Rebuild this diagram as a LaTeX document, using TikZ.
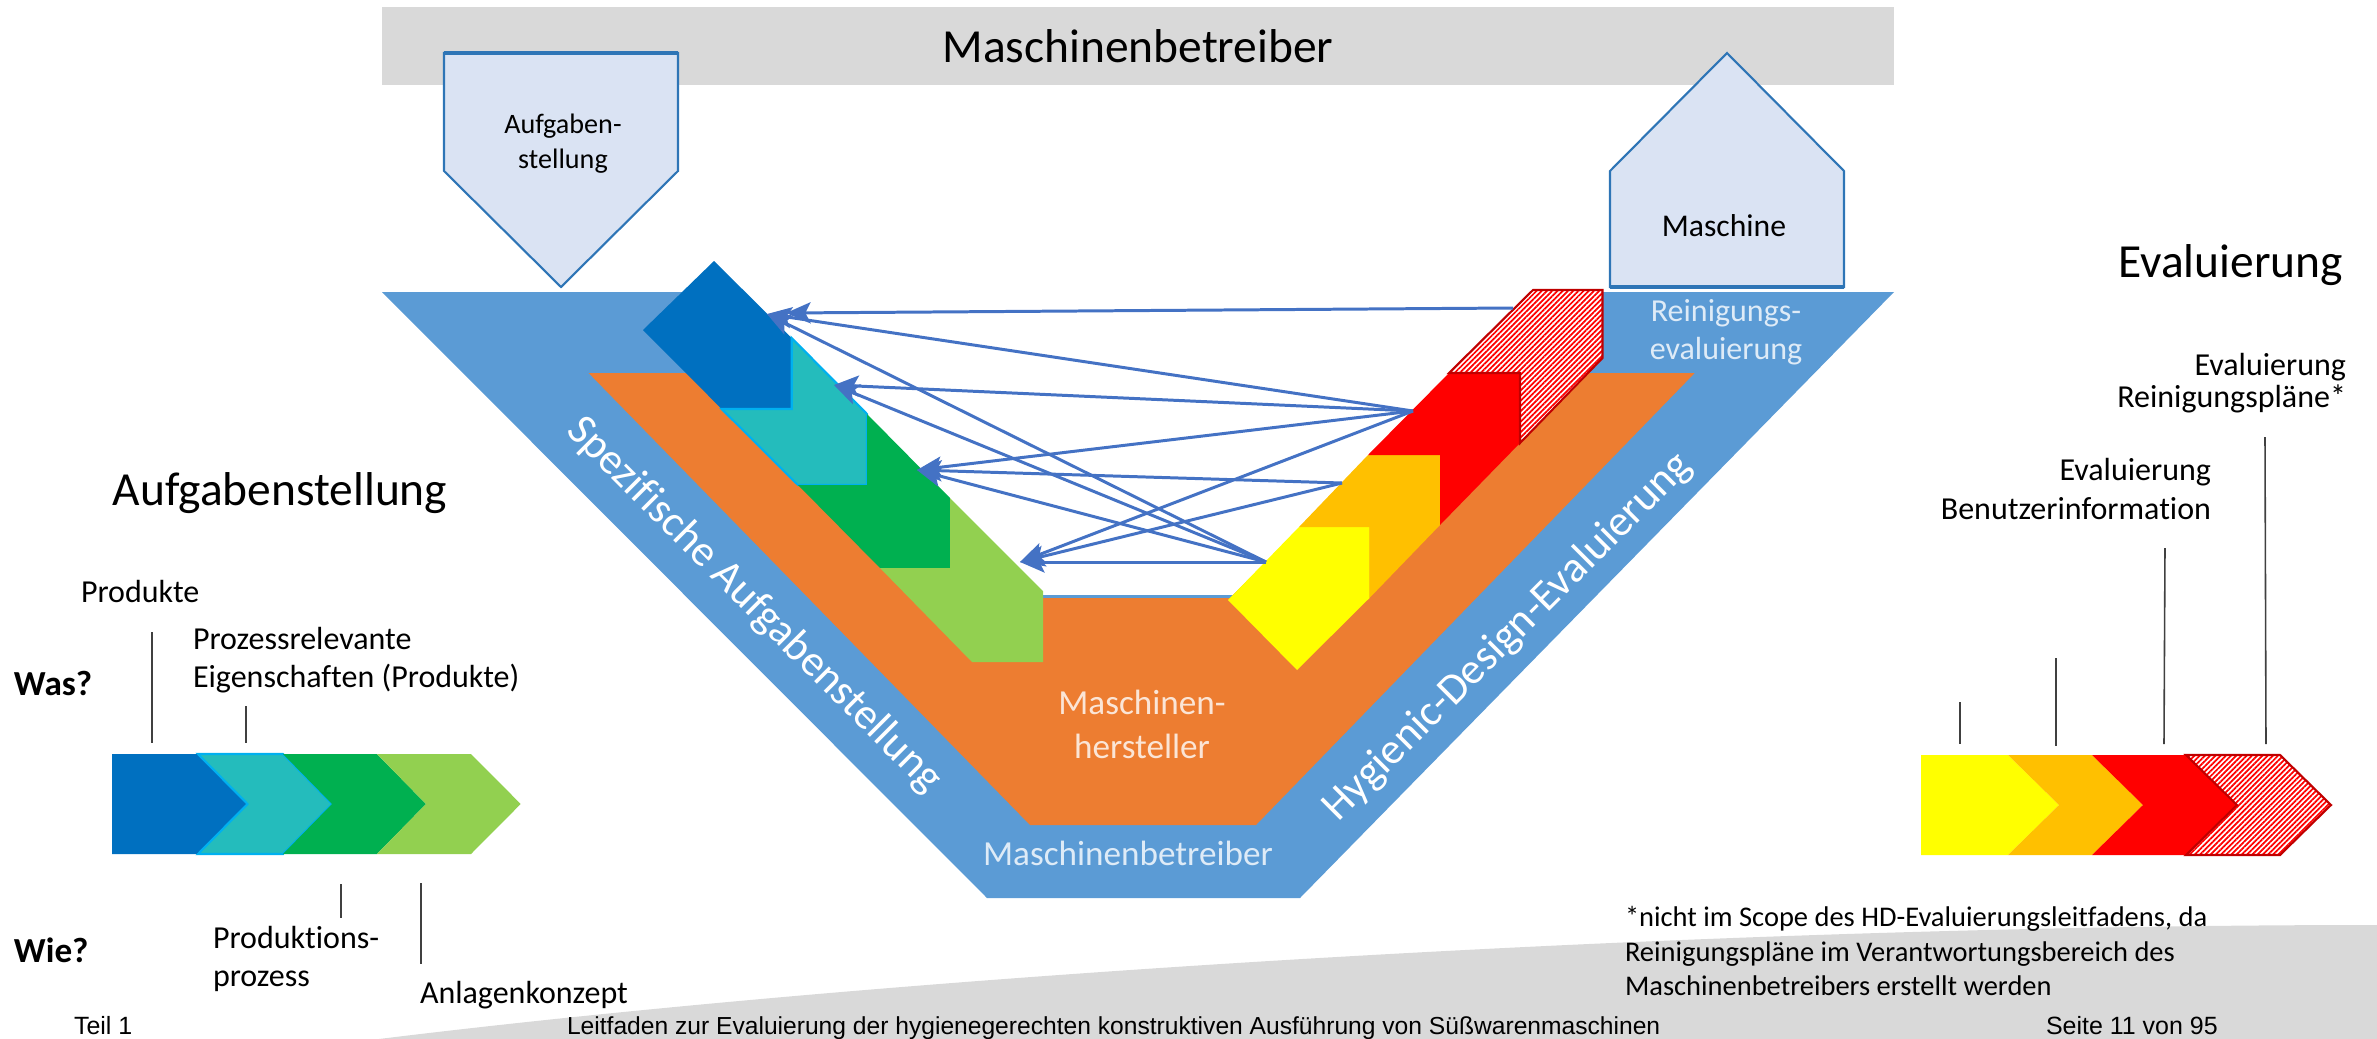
\documentclass[tikz,border=0pt]{standalone}
\usepackage{fontspec}
\setmainfont{Carlito}[Ligatures=NoCommon]
\newfontfamily\arialf{Liberation Sans}[Ligatures=NoCommon]
\usetikzlibrary{arrows.meta,patterns.meta}
\newcommand\myfs[1]{\fontsize{#1pt}{#1pt}\selectfont}
\definecolor{vblue}{HTML}{5B9BD5}
\definecolor{vorange}{HTML}{ED7D31}
\definecolor{dblue}{HTML}{0070C0}
\definecolor{tealc}{HTML}{24BCBC}
\definecolor{cyanl}{HTML}{00B0F0}
\definecolor{greenc}{HTML}{00B050}
\definecolor{lgreen}{HTML}{92D050}
\definecolor{yel}{HTML}{FFFF00}
\definecolor{amber}{HTML}{FFC000}
\definecolor{redc}{HTML}{FF0000}
\definecolor{dred}{HTML}{C00000}
\definecolor{barg}{HTML}{D9D9D9}
\definecolor{pfill}{HTML}{DAE3F3}
\definecolor{pline}{HTML}{2E75B6}
\definecolor{arrowc}{HTML}{4472C4}
\definecolor{calloutc}{HTML}{404040}
\definecolor{peach}{HTML}{FBE5D6}
\definecolor{paleblue}{HTML}{DEEBF7}
\begin{document}
\begin{tikzpicture}[x=0.01cm,y=-0.01cm,
  lbl/.style={inner sep=0pt,outer sep=0pt},
  arr/.style={draw=arrowc,line width=0.85pt,-{Stealth[length=7pt,width=6pt,inset=1.5pt]}},
  callout/.style={draw=calloutc,line width=0.45pt},
  pent/.style={fill=pfill,draw=pline,line width=0.6pt},
  hatchfill/.style={pattern={Lines[angle=45,distance=1.05pt,line width=0.5pt]},pattern color=redc}
]
\useasboundingbox (0,0) rectangle (2377,1039);

% bottom grey swoosh
\fill[barg] (379,1039) .. controls (900,975) and (1700,925) .. (2377,925) -- (2377,1039) -- cycle;

% top grey bar
\fill[barg] (382,7) rectangle (1894,85);
\node[lbl,anchor=base,font=\myfs{13.5}] (title) at (1138,62) {Maschinenbetreiber};

% Aufgabenstellung pentagon
\draw[pent] (444,53) -- (678,53) -- (678,171) -- (561,287) -- (444,171) -- cycle;
\draw[pline,line width=1.2pt] (444,53) -- (678,53);
\node[lbl,anchor=base,font=\myfs{8}] (auf1) at (563,133) {Aufgaben-};
\node[lbl,anchor=base,font=\myfs{8}] (auf2) at (563,168) {stellung};

% Maschine house
\draw[pent] (1610,171) -- (1727,53) -- (1844,171) -- (1844,287) -- (1610,287) -- cycle;
\draw[pline,line width=1.2pt] (1610,287) -- (1844,287);
\node[lbl,anchor=base,font=\myfs{9}] (masch) at (1724,236) {Maschine};

% blue V band
\fill[vblue] (382,292) -- (739,292) -- (1043,595) -- (1233,595) -- (1536,292) -- (1894,292) -- (1300,898) -- (987,898) -- cycle;
% orange V band
\fill[vorange] (588.6,373) -- (818,373) -- (1043,598) -- (1230,598) -- (1455,373) -- (1694.7,373) -- (1256,825) -- (1030,825) -- cycle;

% left chevrons in V
\fill[dblue] (714,261) -- (791.7,338) -- (791.7,409) -- (721.7,409) -- (643,330) -- cycle;
\filldraw[fill=tealc,draw=cyanl,line width=0.6pt] (791.7,338) -- (867,414) -- (867,485) -- (798,485) -- (721.7,409) -- (791.7,409) -- cycle;
\fill[greenc] (867,414) -- (950,498) -- (950,568) -- (880,568) -- (798,485) -- (867,485) -- cycle;
\fill[lgreen] (950,498) -- (1043,591) -- (1043,662) -- (972,662) -- (880,568) -- (950,568) -- cycle;

% right chevrons in V
\fill[yel] (1299,527) -- (1369.5,527) -- (1369.5,598) -- (1297,670) -- (1228,600) -- cycle;
\fill[amber] (1299,527) -- (1368,455) -- (1440,455) -- (1440,525) -- (1369.5,598) -- (1369.5,527) -- cycle;
\fill[redc] (1368,455) -- (1449,373) -- (1520,373) -- (1520,443) -- (1440,525) -- (1440,455) -- cycle;
\fill[white] (1449,373) -- (1533,290) -- (1602.5,290) -- (1602.5,358) -- (1520,443) -- (1520,373) -- cycle;
\fill[hatchfill] (1449,373) -- (1533,290) -- (1602.5,290) -- (1602.5,358) -- (1520,443) -- (1520,373) -- cycle;
\draw[dred,line width=0.6pt] (1449,373) -- (1533,290) -- (1602.5,290) -- (1602.5,358) -- (1520,443) -- (1520,373) -- cycle;

% texts in V
\node[lbl,anchor=base,text=paleblue,font=\myfs{9.1}] (rein1) at (1726,321) {Reinigungs-};
\node[lbl,anchor=base,text=paleblue,font=\myfs{9.1}] (rein2) at (1726,359) {evaluierung};
\node[lbl,rotate=-45,text=white,font=\myfs{12.4}] (spez) at (754,605) {Spezifische Aufgabenstellung};
\node[lbl,rotate=45,text=white,font=\myfs{12.4}] (hyg) at (1508,637) {Hygienic-Design-Evaluierung};
\node[lbl,anchor=base,text=peach,font=\myfs{10}] (mh1) at (1142,714) {Maschinen-};
\node[lbl,anchor=base,text=peach,font=\myfs{10}] (mh2) at (1142,758) {hersteller};
\node[lbl,anchor=base,text=paleblue,font=\myfs{10}] (mb) at (1128,865) {Maschinenbetreiber};

% arrows
\coordinate (S1) at (1513,308);
\coordinate (S2) at (1413,411);
\coordinate (S3) at (1342,483);
\coordinate (S4) at (1266,562);
\coordinate (T1a) at (786,313);
\coordinate (T1) at (767,314);
\coordinate (T2) at (834,385);
\coordinate (T3) at (917,470);
\coordinate (T4) at (1020,562);
\draw[arr] (S1) -- (T1a);
\draw[arr] (S2) -- (T1);
\draw[arr] (S4) -- (T1);
\draw[arr] (S2) -- (T2);
\draw[arr] (S4) -- (T2);
\draw[arr] (S2) -- (T3);
\draw[arr] (S3) -- (T3);
\draw[arr] (S4) -- (T3);
\draw[arr] (S2) -- (T4);
\draw[arr] (S3) -- (T4);
\draw[arr] (S4) -- (T4);

% left side
\node[lbl,anchor=base west,font=\myfs{13.5}] (aufg) at (113,505) {Aufgabenstellung};
\node[lbl,anchor=base west,font=\myfs{9.1}] (prod) at (81,602) {Produkte};
\node[lbl,anchor=base west,font=\myfs{9.1}] (proz1) at (193,649) {Prozessrelevante};
\node[lbl,anchor=base west,font=\myfs{9.1}] (proz2) at (193,687) {Eigenschaften (Produkte)};
\node[lbl,anchor=base west,font=\bfseries\myfs{10}] (was) at (14,695) {Was?};
\node[lbl,anchor=base west,font=\bfseries\myfs{10}] (wie) at (14,962) {Wie?};
\node[lbl,anchor=base west,font=\myfs{9.1}] (pp1) at (213,948) {Produktions-};
\node[lbl,anchor=base west,font=\myfs{9.1}] (pp2) at (213,986) {prozess};
\node[lbl,anchor=base west,font=\myfs{9.1}] (anl) at (420,1003) {Anlagenkonzept};

\draw[callout] (152,632) -- (152,743);
\draw[callout] (246,706) -- (246,743);
\draw[callout] (341,884) -- (341,918);
\draw[callout] (421,883) -- (421,964);

\fill[dblue] (112,754) -- (198,754) -- (247.5,804) -- (198,854) -- (112,854) -- cycle;
\filldraw[fill=tealc,draw=cyanl,line width=0.6pt] (198,754) -- (283,754) -- (332,804) -- (283,854) -- (198,854) -- (247.5,804) -- cycle;
\fill[greenc] (283,754) -- (377,754) -- (426,804) -- (377,854) -- (283,854) -- (332,804) -- cycle;
\fill[lgreen] (377,754) -- (471,754) -- (520.7,804) -- (471,854) -- (377,854) -- (426,804) -- cycle;

% right side
\node[lbl,anchor=base east,font=\myfs{13.5}] (eval) at (2343,277) {Evaluierung};
\node[lbl,anchor=base east,font=\myfs{9.1}] (er1) at (2346,375) {Evaluierung};
\node[lbl,anchor=base east,font=\myfs{9.1}] (er2) at (2346,407) {Reinigungspläne*};
\node[lbl,anchor=base east,font=\myfs{9.1}] (eb1) at (2211,480) {Evaluierung};
\node[lbl,anchor=base east,font=\myfs{9.1}] (eb2) at (2211,519) {Benutzerinformation};

\draw[callout] (1960,702) -- (1960,744);
\draw[callout] (2056,658) -- (2056,746);
\draw[callout] (2165,548) -- (2164,744);
\draw[callout] (2265,437) -- (2266,744);

\fill[yel] (1921,755) -- (2008,755) -- (2059,805) -- (2008,855) -- (1921,855) -- cycle;
\fill[amber] (2008,755) -- (2092,755) -- (2143,805) -- (2092,855) -- (2008,855) -- (2059,805) -- cycle;
\fill[redc] (2092,755) -- (2186,755) -- (2237,805) -- (2186,855) -- (2092,855) -- (2143,805) -- cycle;
\fill[white] (2186,755) -- (2280,755) -- (2331,805) -- (2280,855) -- (2186,855) -- (2237,805) -- cycle;
\fill[hatchfill] (2186,755) -- (2280,755) -- (2331,805) -- (2280,855) -- (2186,855) -- (2237,805) -- cycle;
\draw[dred,line width=0.6pt] (2186,755) -- (2280,755) -- (2331,805) -- (2280,855) -- (2186,855) -- (2237,805) -- cycle;

% footnote
\node[lbl,anchor=base west,font=\myfs{8.1}] (fn1) at (1625,926) {*nicht im Scope des HD-Evaluierungsleitfadens, da};
\node[lbl,anchor=base west,font=\myfs{8.1}] (fn2) at (1625,961) {Reinigungspläne im Verantwortungsbereich des};
\node[lbl,anchor=base west,font=\myfs{8.1}] (fn3) at (1625,995) {Maschinenbetreibers erstellt werden};

% footer
\node[lbl,anchor=base west,font=\arialf\myfs{7.1}] (teil) at (74,1034) {Teil 1};
\node[lbl,anchor=base west,font=\arialf\myfs{7}] (leit) at (567,1034) {Leitfaden zur Evaluierung der hygienegerechten konstruktiven Ausführung von Süßwarenmaschinen};
\node[lbl,anchor=base west,font=\arialf\myfs{7.1}] (seite) at (2046,1034) {Seite 11 von 95};
\end{tikzpicture}
\end{document}
